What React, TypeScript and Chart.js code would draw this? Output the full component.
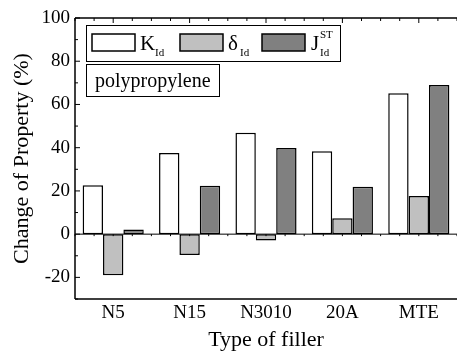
import React, { useEffect, useRef } from "react";
import { Chart, registerables } from "chart.js";

Chart.register(...registerables);

const categories = ["N5", "N15", "N3010", "20A", "MTE"];
const kValues = [22.6, 37.6, 46.9, 38.4, 65.2];
const deltaValues = [-19.0, -9.6, -2.9, 7.3, 17.6];
const jValues = [2.1, 22.4, 39.8, 21.9, 69.0];
const yTickValues = [-20, 0, 20, 40, 60, 80, 100];

const FONT = "'Liberation Serif', 'Times New Roman', serif";

const decorPlugin = {
  id: "decor",
  afterDatasetsDraw(chart: any) {
    const { ctx, chartArea } = chart;
    const { left, right, top, bottom } = chartArea;
    const y = chart.scales.y;
    const x = chart.scales.x;
    ctx.save();
    ctx.strokeStyle = "#000";
    ctx.lineWidth = 1;
    // zero line
    const y0 = y.getPixelForValue(0);
    ctx.beginPath();
    ctx.moveTo(left, y0);
    ctx.lineTo(right, y0);
    ctx.stroke();
    // axis frame: left, top, bottom
    ctx.lineWidth = 1.5;
    ctx.beginPath();
    ctx.moveTo(left, top);
    ctx.lineTo(left, bottom);
    ctx.moveTo(left, top);
    ctx.lineTo(right, top);
    ctx.moveTo(left, bottom);
    ctx.lineTo(right, bottom);
    ctx.stroke();
    // left ticks (inward)
    ctx.lineWidth = 1;
    for (let v = -30; v <= 100; v += 10) {
      const py = y.getPixelForValue(v);
      const len = v % 20 === 0 ? 5 : 3;
      ctx.beginPath();
      ctx.moveTo(left, py);
      ctx.lineTo(left + len, py);
      ctx.stroke();
    }
    // top and zero-line ticks
    const catW = (right - left) / categories.length;
    for (let i = 0; i <= categories.length * 4; i++) {
      const px = left + (i * catW) / 4;
      const len = i % 4 === 2 ? 5 : 3;
      ctx.beginPath();
      ctx.moveTo(px, top);
      ctx.lineTo(px, top + len);
      ctx.moveTo(px, y0);
      ctx.lineTo(px, y0 + 2);
      ctx.stroke();
    }
    void x;
    ctx.restore();
  },
  afterDraw(chart: any) {
    const { ctx, chartArea } = chart;
    const L = chartArea.left;
    const T = chartArea.top;
    ctx.save();
    ctx.strokeStyle = "#000";
    ctx.fillStyle = "#fff";
    ctx.lineWidth = 1;
    // legend box
    ctx.fillRect(L + 11, T + 7, 254, 36);
    ctx.strokeRect(L + 11.5, T + 7.5, 254, 36);
    const colors = ["#ffffff", "#c0c0c0", "#808080"];
    const swX = [L + 17, L + 105, L + 187];
    ctx.lineWidth = 1.5;
    for (let i = 0; i < 3; i++) {
      ctx.fillStyle = colors[i];
      ctx.fillRect(swX[i], T + 16, 43, 17);
      ctx.strokeRect(swX[i], T + 16, 43, 17);
    }
    ctx.fillStyle = "#000";
    ctx.textBaseline = "alphabetic";
    ctx.textAlign = "left";
    const base = T + 32;
    ctx.font = `21px ${FONT}`;
    ctx.fillText("K", L + 65, base);
    ctx.fillText("δ", L + 153, base);
    ctx.fillText("J", L + 236, base);
    ctx.font = `11px ${FONT}`;
    ctx.fillText("Id", L + 80, base + 6);
    ctx.fillText("Id", L + 165, base + 6);
    ctx.fillText("Id", L + 245, base + 6);
    ctx.fillText("ST", L + 245, base - 12);
    // polypropylene box
    ctx.fillStyle = "#fff";
    ctx.lineWidth = 1;
    ctx.fillRect(L + 11, T + 46, 133, 32);
    ctx.strokeRect(L + 11.5, T + 46.5, 133, 32);
    ctx.fillStyle = "#000";
    ctx.font = `20px ${FONT}`;
    ctx.fillText("polypropylene", L + 20, T + 69);
    ctx.restore();
  },
};

export default function App() {
  const ref = useRef<HTMLCanvasElement>(null);
  useEffect(() => {
    if (!ref.current) return;
    const chart = new Chart(ref.current, {
      type: "bar",
      data: {
        labels: categories,
        datasets: [
          { label: "K_Id", data: kValues, backgroundColor: "#ffffff", borderColor: "#000", borderWidth: 1.5, borderSkipped: false },
          { label: "δ_Id", data: deltaValues, backgroundColor: "#c0c0c0", borderColor: "#000", borderWidth: 1.5, borderSkipped: false },
          { label: "J_Id^ST", data: jValues, backgroundColor: "#808080", borderColor: "#000", borderWidth: 1.5, borderSkipped: false },
        ],
      },
      plugins: [decorPlugin],
      options: {
        animation: false,
        responsive: false,
        maintainAspectRatio: false,
        layout: { padding: { top: 18, right: 0, bottom: 0, left: 0 } },
        plugins: { legend: { display: false }, tooltip: { enabled: false } },
        datasets: { bar: { categoryPercentage: 0.8, barPercentage: 1.0 } },
        scales: {
          x: {
            grid: { display: false, drawTicks: false },
            border: { display: false },
            ticks: { color: "#000", font: { family: FONT, size: 19 }, padding: 3, maxRotation: 0 },
            title: { display: true, text: "Type of filler", color: "#000", font: { family: FONT, size: 22, lineHeight: 1 }, padding: { top: 0, bottom: 1 } },
            afterFit: (s: any) => { s.height = 53; },
          },
          y: {
            min: -30,
            max: 100,
            grid: { display: false, drawTicks: false },
            border: { display: false },
            afterBuildTicks: (s: any) => { s.ticks = yTickValues.map((v) => ({ value: v })); },
            ticks: { color: "#000", font: { family: FONT, size: 19 }, padding: 5 },
            title: { display: true, text: "Change of Property (%)", color: "#000", font: { family: FONT, size: 22, lineHeight: 1 }, padding: { top: 11, bottom: 0 } },
            afterFit: (s: any) => { s.width = 75; },
          },
        },
      },
    });
    return () => chart.destroy();
  }, []);
  return (
    <div style={{ position: "absolute", left: 0, top: 0, width: 457, height: 352, background: "#fff" }}>
      <canvas ref={ref} width={457} height={352} style={{ width: 457, height: 352 }} />
    </div>
  );
}
